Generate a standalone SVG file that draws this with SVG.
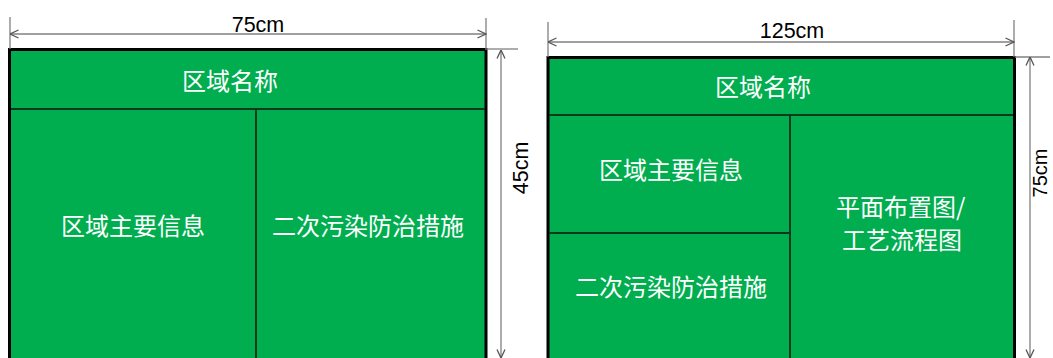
<svg xmlns="http://www.w3.org/2000/svg" width="1053" height="358" viewBox="0 0 1053 358">
<style>
.panel{fill:#00AE4F;stroke:#000;stroke-width:3}
.div{stroke:#0d3a1c;stroke-width:2;fill:none}
.lbl{font-family:"Noto Sans CJK SC","Noto Sans",sans-serif;font-size:24px;fill:#fff}
.dim{stroke:#808080;stroke-width:1.3;fill:none}
.dimtxt{font-family:"Liberation Sans",Arial,sans-serif;font-size:21.5px;fill:#000}
</style>
<defs>
<marker id="arr" viewBox="0 0 10 10" refX="9.5" refY="5" markerWidth="10" markerHeight="10" markerUnits="userSpaceOnUse" orient="auto-start-reverse">
<path d="M1,1 L9.5,5 L1,9" fill="none" stroke="#555" stroke-width="1.3"/>
</marker>
</defs>
<rect x="0" y="0" width="1053" height="358" fill="#fff"/>
<g id="panel-left">
<rect class="panel" x="9.5" y="49.5" width="476.5" height="400"/>
<line class="div" x1="11" y1="109" x2="485" y2="109"/>
<line class="div" x1="256" y1="109" x2="256" y2="358"/>
<text class="lbl" x="230" y="90" text-anchor="middle">区域名称</text>
<text class="lbl" x="133" y="235" text-anchor="middle">区域主要信息</text>
<text class="lbl" x="368" y="235" text-anchor="middle">二次污染防治措施</text>
</g>
<g id="panel-right">
<rect class="panel" x="548" y="57.5" width="466.5" height="400"/>
<line class="div" x1="549" y1="115" x2="1013" y2="115"/>
<line class="div" x1="790" y1="115" x2="790" y2="358"/>
<line class="div" x1="549" y1="233" x2="790" y2="233"/>
<text class="lbl" x="763" y="96" text-anchor="middle">区域名称</text>
<text class="lbl" x="671" y="179" text-anchor="middle">区域主要信息</text>
<text class="lbl" x="671" y="296" text-anchor="middle">二次污染防治措施</text>
<text class="lbl" x="836" y="216">平面布置图/</text>
<text class="lbl" x="842" y="249">工艺流程图</text>
</g>
<g id="connectors">
<line class="dim" x1="10" y1="17" x2="10" y2="49"/>
<line class="dim" x1="486" y1="18" x2="486" y2="50"/>
<line class="dim" x1="10" y1="34" x2="486" y2="34" marker-start="url(#arr)" marker-end="url(#arr)"/>
<line class="dim" x1="487" y1="49" x2="518" y2="49"/>
<line class="dim" x1="501" y1="50" x2="501" y2="358" marker-start="url(#arr)" marker-end="url(#arr)"/>
<line class="dim" x1="548" y1="22" x2="548" y2="57"/>
<line class="dim" x1="1014" y1="20" x2="1014" y2="57"/>
<line class="dim" x1="548" y1="42" x2="1014" y2="42" marker-start="url(#arr)" marker-end="url(#arr)"/>
<line class="dim" x1="1015" y1="57" x2="1050" y2="57"/>
<line class="dim" x1="1030" y1="57" x2="1030" y2="358" marker-start="url(#arr)" marker-end="url(#arr)"/>
</g>
<g id="dim-labels">
<text class="dimtxt" x="258" y="32" text-anchor="middle">75cm</text>
<text class="dimtxt" x="792" y="38" text-anchor="middle">125cm</text>
<text class="dimtxt" transform="translate(528,168) rotate(-90)" text-anchor="middle">45cm</text>
<text class="dimtxt" style="font-size:20px" transform="translate(1047,173) rotate(-90)" text-anchor="middle">75cm</text>
</g>
</svg>
